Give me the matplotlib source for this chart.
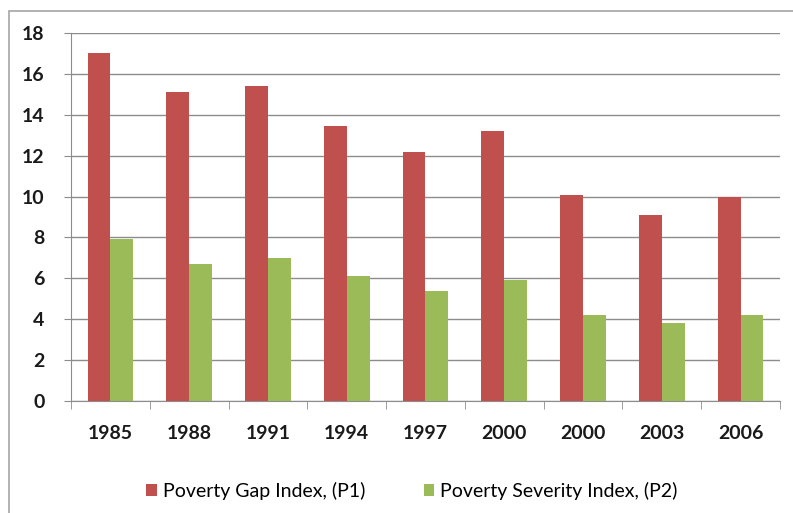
"""Poverty gap / severity index bar chart, Excel-style clustered columns."""

import numpy as np
import matplotlib
matplotlib.use('Agg')
import matplotlib.pyplot as plt
from matplotlib.patches import Rectangle

years = ['1985', '1988', '1991', '1994', '1997', '2000', '2000', '2003', '2006']
gap_p1 = [17.0, 15.1, 15.4, 13.45, 12.2, 13.2, 10.1, 9.1, 10.0]
severity_p2 = [7.9, 6.7, 7.0, 6.1, 5.4, 5.9, 4.2, 3.8, 4.2]
series_names = ['Poverty Gap Index, (P1)', 'Poverty Severity Index, (P2)']

RED = '#c0504d'
GREEN = '#9bbb59'
GRID = '#8c8c8c'

fig = plt.figure(figsize=(7.93, 5.13), dpi=100)

# outer chart frame, runs off the right and bottom edges like the original
fig.patches.append(Rectangle((9 / 793, -0.1), 1.2, (513 - 11) / 513 + 0.1,
                             transform=fig.transFigure, fill=False,
                             edgecolor='#a6a6a6', linewidth=1.2))

ax = fig.add_axes([71 / 793, 112 / 513, 709 / 793, 368 / 513])

x = np.arange(len(years))
w = 0.29
ax.bar(x - w / 2, gap_p1, w, color=RED, label=series_names[0], zorder=3)
ax.bar(x + w / 2, severity_p2, w, color=GREEN, label=series_names[1], zorder=3)

ax.set_xlim(-0.5, len(years) - 0.5)
ax.set_ylim(0, 18)
ax.set_yticks(range(0, 19, 2))
ax.yaxis.grid(True, color=GRID, linewidth=1.0, zorder=0)

for side in ('top', 'right'):
    ax.spines[side].set_visible(False)
ax.spines['left'].set_color(GRID)
ax.spines['bottom'].set_color(GRID)

# category labels at centres, tick marks at the boundaries
ax.set_xticks(x)
ax.set_xticklabels(years)
ax.set_xticks(np.arange(-0.5, len(years)), minor=True)
ax.tick_params(axis='x', which='major', length=0, pad=17)
ax.tick_params(axis='x', which='minor', length=6, color=GRID, direction='out')
ax.tick_params(axis='y', length=5, color=GRID, pad=14)

for lab in ax.get_xticklabels() + ax.get_yticklabels():
    lab.set_fontfamily(['Lato', 'DejaVu Sans'])
    lab.set_fontweight('bold')
    lab.set_fontsize(14)
    lab.set_color('#1a1a1a')

fig.legend(loc='center', bbox_to_anchor=(412 / 793, 1 - 491 / 513), ncol=2,
           frameon=False, handlelength=0.55, handleheight=0.55,
           handletextpad=0.3, columnspacing=3.0,
           prop={'family': ['Liberation Sans Narrow', 'Lato', 'DejaVu Sans'],
                 'size': 14})

fig.savefig('out.png', dpi=100)
